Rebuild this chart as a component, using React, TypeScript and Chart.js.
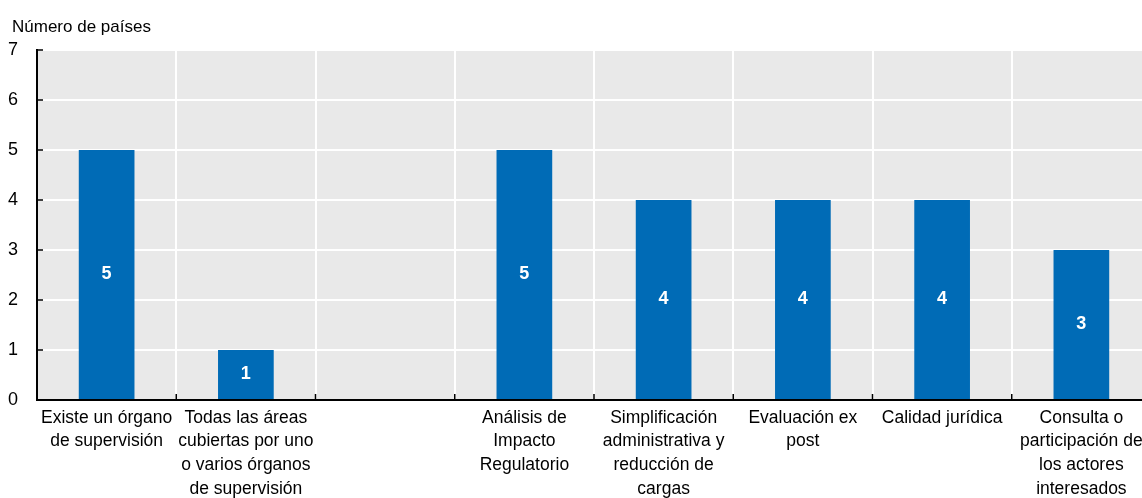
import React, { useEffect, useRef } from "react";
import { Chart, registerables } from "chart.js";

Chart.register(...registerables);

const categories: string[][] = [
  ["Existe un órgano", "de supervisión"],
  ["Todas las áreas", "cubiertas por uno", "o varios órganos", "de supervisión"],
  [""],
  ["Análisis de", "Impacto", "Regulatorio"],
  ["Simplificación", "administrativa y", "reducción de", "cargas"],
  ["Evaluación ex", "post"],
  ["Calidad jurídica"],
  ["Consulta o", "participación de", "los actores", "interesados"],
];
const values: (number | null)[] = [5, 1, null, 5, 4, 4, 4, 3];
const yTicks: number[] = [0, 1, 2, 3, 4, 5, 6, 7];
const yTitle = "Número de países";

const FONT = "'Liberation Sans', Arial, sans-serif";
const CANVAS_W = 1170;
const CANVAS_H = 512;
const PLOT_LEFT = 37;
const PLOT_RIGHT = 1151;
const PLOT_TOP = 50;
const PLOT_BOTTOM = 400;

export default function App() {
  const ref = useRef<HTMLCanvasElement | null>(null);
  useEffect(() => {
    if (!ref.current) return;
    const bgPlugin = {
      id: "bg",
      beforeDraw(chart: any) {
        const { ctx, chartArea } = chart;
        ctx.save();
        ctx.fillStyle = "#E9E9E9";
        ctx.fillRect(chartArea.left, chartArea.top, chartArea.right - chartArea.left, chartArea.bottom - chartArea.top);
        ctx.restore();
      },
      afterDraw(chart: any) {
        const { ctx, chartArea } = chart;
        const xs = chart.scales.x;
        const ys = chart.scales.y;
        ctx.save();
        ctx.strokeStyle = "#000";
        ctx.lineWidth = 1.5;
        for (let i = 1; i < categories.length; i++) {
          const px = (xs.getPixelForValue(i - 1) + xs.getPixelForValue(i)) / 2;
          ctx.beginPath();
          ctx.moveTo(px, chartArea.bottom);
          ctx.lineTo(px, chartArea.bottom - 6);
          ctx.stroke();
        }
        for (const v of yTicks) {
          const py = ys.getPixelForValue(v);
          ctx.beginPath();
          ctx.moveTo(chartArea.left, py);
          ctx.lineTo(chartArea.left + 6, py);
          ctx.stroke();
        }
        ctx.fillStyle = "#000";
        ctx.font = `17px ${FONT}`;
        ctx.textAlign = "left";
        ctx.textBaseline = "middle";
        ctx.fillText(yTitle, 12, 27);
        ctx.restore();
      },
      afterDatasetsDraw(chart: any) {
        const { ctx } = chart;
        const meta = chart.getDatasetMeta(0);
        ctx.save();
        ctx.fillStyle = "#FFFFFF";
        ctx.font = `bold 18px ${FONT}`;
        ctx.textAlign = "center";
        ctx.textBaseline = "middle";
        meta.data.forEach((el: any, i: number) => {
          const v = values[i];
          if (v == null) return;
          ctx.fillText(String(v), el.x, (el.y + el.base) / 2);
        });
        ctx.restore();
      },
    };

    const chart = new Chart(ref.current, {
      type: "bar",
      data: {
        labels: categories,
        datasets: [
          {
            data: values,
            backgroundColor: "#006BB6",
            barPercentage: 0.4,
            categoryPercentage: 1,
          },
        ],
      },
      options: {
        animation: false,
        responsive: false,
        layout: {
          padding: { left: 0, right: CANVAS_W - PLOT_RIGHT, top: PLOT_TOP, bottom: 0 },
        },
        plugins: {
          legend: { display: false },
          tooltip: { enabled: false },
          title: { display: false },
        },
        scales: {
          x: {
            offset: true,
            grid: { offset: true, color: "#FFFFFF", lineWidth: 2, drawTicks: false },
            border: { color: "#000000", width: 2 },
            ticks: {
              autoSkip: false,
              maxRotation: 0,
              minRotation: 0,
              padding: 6,
              color: "#000",
              font: { family: FONT, size: 17.5, lineHeight: 1.35 },
            },
            afterFit(scale: any) {
              scale.height = CANVAS_H - PLOT_BOTTOM;
            },
          },
          y: {
            min: 0,
            max: 7,
            grid: { color: "#FFFFFF", lineWidth: 2, drawTicks: false },
            border: { color: "#000000", width: 2 },
            ticks: {
              stepSize: 1,
              padding: 19,
              color: "#000",
              font: { family: FONT, size: 18 },
            },
            afterFit(scale: any) {
              scale.width = PLOT_LEFT;
            },
          },
        },
      },
      plugins: [bgPlugin],
    });
    return () => chart.destroy();
  }, []);

  return (
    <div style={{ position: "absolute", left: 0, top: 0, width: 1142, height: 498, overflow: "hidden", background: "#fff" }}>
      <canvas ref={ref} width={CANVAS_W} height={CANVAS_H} style={{ display: "block" }} />
    </div>
  );
}
